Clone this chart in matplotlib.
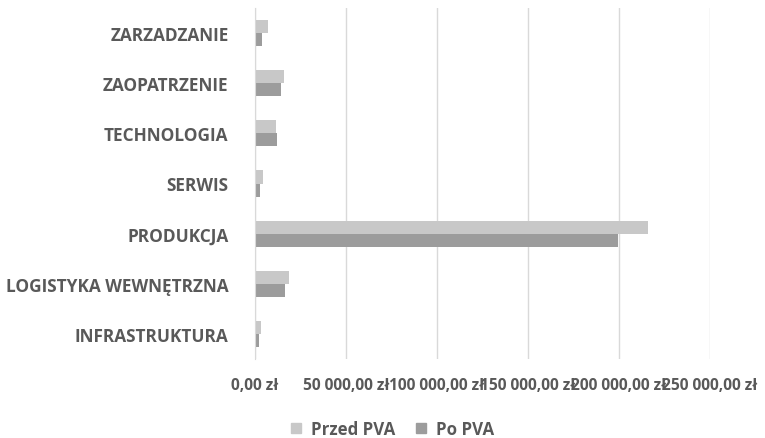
import matplotlib
matplotlib.use("Agg")
import matplotlib.pyplot as plt
import numpy as np
from matplotlib.patches import Patch

categories = ["INFRASTRUKTURA", "LOGISTYKA WEWNĘTRZNA", "PRODUKCJA", "SERWIS",
              "TECHNOLOGIA", "ZAOPATRZENIE", "ZARZADZANIE"]
przed_pva = [3100, 18900, 216300, 4200, 11600, 16200, 7000]
po_pva = [2400, 16500, 199800, 2900, 12000, 14200, 4000]
x_ticks = [0, 50000, 100000, 150000, 200000, 250000]
x_tick_labels = ["0,00 zł", "50 000,00 zł", "100 000,00 zł", "150 000,00 zł",
                 "200 000,00 zł", "250 000,00 zł"]
series_names = ["Przed PVA", "Po PVA"]

c_przed = "#C8C8C8"
c_po = "#9C9C9C"
txt = "#595959"
plt.rcParams['font.family'] = ['Open Sans', 'DejaVu Sans']

fig = plt.figure(figsize=(7.65, 4.39), dpi=100)
ax = fig.add_axes([255/765, 1-360/439, (709.5-255)/765, (360-9)/439])

y = np.arange(len(categories))
h = 0.26
ax.barh(y + h/2, przed_pva, height=h, color=c_przed, zorder=3)
ax.barh(y - h/2, po_pva, height=h, color=c_po, zorder=3)

ax.set_xlim(0, 250000)
ax.set_ylim(-0.5, len(categories) - 0.5)
ax.set_xticks(x_ticks)
ax.set_xticklabels(x_tick_labels, fontsize=11.2, color=txt, fontweight='bold')
ax.set_yticks(y)
ax.set_yticklabels(categories, fontsize=12.4, color=txt, fontweight='bold')
ax.tick_params(axis='both', length=0)
ax.tick_params(axis='x', pad=13)
ax.tick_params(axis='y', pad=19)
ax.grid(axis='x', color="#D9D9D9", linewidth=1, zorder=0)
for s in ['top', 'right', 'bottom']:
    ax.spines[s].set_visible(False)
ax.spines['left'].set_color("#D9D9D9")
ax.spines['left'].set_zorder(4)

handles = [Patch(color=c_przed), Patch(color=c_po)]
leg = fig.legend(handles, series_names, loc='center', bbox_to_anchor=(0.513, 1-430/439),
                 ncol=2, frameon=False, handlelength=0.6, handleheight=0.6,
                 handletextpad=0.6, columnspacing=1.2,
                 prop={'size': 12.2, 'weight': 'bold'})
for t in leg.get_texts():
    t.set_color(txt)

fig.savefig("out.png", dpi=100)
